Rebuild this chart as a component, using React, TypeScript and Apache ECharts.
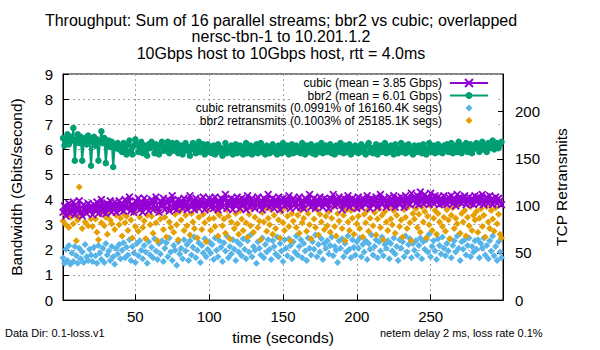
import React, { useEffect, useRef } from "react";
import * as echarts from "echarts";

const FONT = "'Liberation Sans', Arial, sans-serif";

const titleLines = [
  "Throughput: Sum of 16 parallel streams; bbr2 vs cubic; overlapped",
  "nersc-tbn-1 to 10.201.1.2",
  "10Gbps host to 10Gbps host, rtt = 4.0ms",
];
const legendNames = [
  "cubic (mean = 3.85 Gbps)",
  "bbr2 (mean = 6.01 Gbps)",
  "cubic retransmits (0.0991% of 16160.4K segs)",
  "bbr2 retransmits (0.1003% of 25185.1K segs)",
];
const footLeft = "Data Dir: 0.1-loss.v1";
const footRight = "netem delay 2 ms, loss rate 0.1%";

// Throughput (Gbps), one value per second, t = 1..298
const bbr2Tput = [
  6.45, 6.15, 6.3, 6.6, 6.2, 6.5, 6.35, 6.85, 5.55, 6.4, 6.6, 6.25, 6.5, 5.55, 6.3, 6.45, 6.2, 6.55, 6.35, 5.35,
  6.3, 6.5, 6.15, 6.4, 5.55, 6.3, 6.72, 6.25, 6.45, 5.45, 6.2, 6.35, 6.1, 6.3, 5.3, 6.15, 6.05, 6.25, 6.0, 6.1,
  5.9, 6.25, 6.05, 5.8, 6.2, 6.35, 5.95, 5.8, 6.15, 6.4, 6.2, 5.9, 6.05, 6.3, 5.85, 6.15, 5.95, 5.75, 6.2, 6.05,
  6.3, 6.1, 5.85, 6.2, 6.05, 5.8, 6.15, 6.3, 5.95, 6.1, 5.95, 6.3, 5.85, 6.05, 6.25, 5.95, 6.1, 6.25, 5.85, 6.0,
  6.15, 5.8, 6.05, 6.25, 5.95, 6.1, 5.75, 6.0, 6.25, 6.05, 5.85, 6.1, 6.3, 5.9, 6.0, 6.2, 5.8, 6.05, 6.2, 5.9,
  6.05, 5.85, 6.15, 5.8, 6.0, 6.2, 5.9, 6.05, 5.75, 6.0, 6.25, 5.85, 6.05, 5.9, 6.15, 5.8, 6.0, 6.2, 5.85, 6.05,
  6.15, 5.9, 5.8, 6.05, 6.25, 5.85, 6.0, 6.15, 5.8, 6.05, 5.9, 6.2, 5.85, 6.0, 6.25, 5.9, 6.05, 5.8, 6.15, 6.0,
  5.85, 6.05, 6.2, 5.9, 6.0, 5.8, 6.15, 6.05, 5.85, 6.25, 6.0, 5.9, 6.15, 5.8, 6.05, 6.2, 5.85, 6.0, 6.15, 5.9,
  6.05, 5.85, 6.25, 6.0, 5.8, 6.15, 5.9, 6.05, 6.2, 5.85, 6.0, 5.8, 6.15, 6.05, 5.9, 6.25, 5.85, 6.0, 6.15, 5.9,
  6.0, 6.2, 5.85, 6.05, 5.8, 6.15, 6.0, 5.9, 6.25, 6.05, 5.85, 6.15, 5.9, 6.0, 6.2, 5.8, 6.05, 5.9, 6.15, 6.0,
  5.85, 6.05, 6.2, 5.9, 6.0, 5.8, 6.15, 6.25, 5.9, 6.05, 5.85, 6.0, 6.2, 5.8, 6.05, 6.15, 5.9, 6.0, 6.25, 5.85,
  6.05, 5.9, 6.15, 6.0, 5.8, 6.2, 6.05, 5.85, 6.0, 6.25, 5.9, 6.15, 5.85, 6.05, 6.2, 5.9, 6.0, 5.8, 6.15, 6.05,
  5.9, 6.15, 6.0, 5.85, 6.2, 6.05, 5.8, 6.0, 6.25, 5.9, 6.05, 6.15, 5.85, 6.0, 6.2, 5.9, 6.05, 5.85, 6.15, 6.0,
  6.2, 5.9, 6.05, 6.25, 5.85, 6.0, 6.15, 5.9, 6.3, 6.05, 5.85, 6.15, 6.0, 6.25, 5.9, 6.05, 6.2, 5.85, 6.0, 6.15,
  6.25, 6.05, 5.9, 6.2, 6.3, 6.0, 6.15, 5.9, 6.25, 6.05, 6.2, 6.35, 6.0, 6.15, 6.25, 6.05, 6.2, 6.3,
];

const cubicTput = [
  3.5, 3.75, 3.35, 3.65, 3.85, 3.45, 3.6, 3.9, 3.4, 3.7, 3.55, 3.95, 3.5, 3.35, 3.8, 3.6, 3.45, 3.85, 3.55, 3.75,
  3.4, 3.8, 3.55, 3.9, 3.45, 3.7, 4.0, 3.5, 3.8, 3.45, 3.85, 3.6, 3.95, 3.5, 3.75, 3.9, 3.5, 3.8, 3.95, 3.6,
  3.85, 3.55, 4.0, 3.65, 3.9, 4.1, 3.55, 3.8, 3.5, 3.95, 3.7, 4.05, 3.6, 3.9, 3.5, 4.05, 3.7, 3.95, 3.55, 3.85,
  4.0, 3.6, 3.9, 4.1, 3.65, 3.5, 3.95, 3.75, 4.05, 3.6, 3.9, 4.0, 3.55, 3.95, 4.15, 3.65, 3.9, 3.6, 4.0, 3.75,
  3.95, 3.65, 4.05, 3.8, 3.6, 4.0, 4.15, 3.7, 3.95, 3.6, 4.05, 3.8, 3.65, 4.0, 3.75, 4.1, 3.6, 3.95, 3.8, 4.05,
  3.7, 4.0, 3.65, 4.1, 3.9, 3.6, 3.85, 4.05, 3.7, 4.0, 4.2, 3.65, 3.95, 3.8, 4.05, 3.6, 4.0, 3.75, 4.1, 3.9,
  3.65, 4.05, 3.8, 4.0, 3.6, 4.15, 3.9, 3.7, 4.05, 3.8, 3.65, 4.0, 4.1, 3.7, 3.95, 3.6, 4.05, 3.8, 4.0, 4.2,
  3.7, 3.9, 4.05, 3.65, 4.0, 3.8, 4.1, 3.6, 3.95, 4.05, 3.75, 4.0, 3.8, 4.15, 3.65, 3.95, 4.05, 3.8, 3.7, 4.0,
  4.1, 3.7, 3.95, 3.65, 4.05, 4.0, 3.8, 4.2, 3.7, 3.9, 4.05, 3.65, 4.0, 3.8, 4.1, 3.9, 3.7, 4.05, 3.8, 4.0,
  3.65, 4.05, 3.9, 4.2, 3.75, 4.0, 3.8, 4.1, 3.9, 3.6, 4.05, 3.8, 4.0, 4.15, 3.7, 3.95, 4.05, 3.8, 4.0, 3.65,
  4.1, 3.9, 3.7, 4.05, 4.0, 3.8, 4.15, 3.9, 3.65, 4.05, 3.8, 4.0, 4.1, 3.7, 3.95, 4.2, 3.8, 4.0, 4.05, 3.7,
  3.9, 4.1, 3.8, 4.0, 4.15, 3.7, 3.95, 4.05, 3.8, 4.1, 4.0, 3.7, 4.15, 3.9, 4.05, 3.8, 4.25, 3.95, 4.1, 3.85,
  4.15, 3.8, 4.3, 4.0, 3.85, 4.2, 3.9, 4.1, 3.8, 4.25, 4.0, 3.85, 4.15, 3.9, 4.1, 3.8, 4.05, 3.85, 4.15, 3.9,
  3.8, 4.1, 3.9, 4.15, 3.85, 4.05, 3.75, 4.2, 3.9, 4.1, 3.85, 4.05, 4.15, 3.8, 3.95, 4.1, 3.85, 4.05, 3.8, 4.15,
  3.9, 4.1, 3.85, 4.05, 4.2, 3.8, 3.95, 4.1, 3.85, 4.15, 4.0, 3.8, 3.95, 4.1, 3.85, 4.05, 3.95, 3.8,
];

// Retransmits per second (right axis), t = 1..298
const cubicRetr = [
  45, 39, 54, 42, 58, 38, 50, 41, 57, 47, 39, 55, 44, 51, 40, 59, 46, 42, 54, 48,
  41, 56, 47, 39, 58, 50, 43, 55, 40, 60, 48, 52, 42, 57, 46, 38, 55, 49, 59, 44,
  53, 61, 45, 56, 48, 64, 42, 57, 50, 40, 60, 47, 63, 53, 44, 58, 51, 39, 62, 48,
  56, 45, 65, 52, 43, 60, 49, 63, 41, 55, 61, 46, 66, 51, 42, 58, 53, 37, 62, 49,
  55, 44, 64, 52, 59, 42, 63, 48, 56, 67, 45, 53, 61, 40, 58, 50, 65, 46, 54, 62,
  50, 59, 43, 66, 53, 46, 63, 56, 41, 61, 52, 68, 45, 57, 49, 64, 54, 42, 62, 51,
  59, 47, 65, 54, 44, 63, 51, 69, 46, 57, 53, 39, 62, 55, 48, 66, 45, 59, 51, 64,
  54, 43, 63, 57, 49, 67, 46, 60, 52, 41, 64, 55, 47, 65, 58, 44, 62, 51, 68, 48,
  57, 64, 45, 60, 52, 42, 66, 55, 48, 62, 54, 69, 46, 59, 51, 65, 43, 60, 55, 63,
  49, 58, 67, 47, 57, 53, 40, 63, 55, 65, 46, 60, 51, 68, 54, 45, 64, 56, 48, 62,
  55, 66, 46, 59, 51, 63, 43, 60, 54, 69, 48, 57, 64, 45, 62, 52, 67, 47, 59, 55,
  63, 44, 60, 52, 66, 49, 57, 42, 64, 55, 62, 46, 68, 51, 59, 65, 45, 60, 53, 63,
  48, 58, 66, 44, 62, 54, 64, 51, 70, 46, 57, 63, 52, 43, 65, 58, 49, 67, 55, 47,
  60, 52, 65, 45, 58, 63, 51, 68, 55, 42, 62, 54, 64, 48, 58, 66, 46, 57, 51, 63,
  54, 64, 45, 60, 55, 66, 48, 58, 44, 63, 52, 68, 47, 57, 42, 62, 51, 45,
];

const bbr2Retr = [
  84, 92, 80, 95, 77, 88, 97, 81, 90, 63, 85, 120, 89, 76, 96, 83, 93, 79, 99, 86,
  78, 94, 86, 72, 64, 91, 82, 98, 79, 88, 70, 93, 85, 81, 100, 75, 90, 96, 80, 87,
  68, 92, 82, 89, 74, 99, 85, 66, 93, 78, 101, 73, 88, 95, 77, 84, 65, 90, 98, 80,
  89, 71, 96, 82, 63, 93, 86, 101, 75, 88, 67, 95, 83, 77, 99, 72, 91, 80, 64, 94,
  85, 98, 74, 90, 79, 100, 69, 92, 83, 76, 96, 66, 88, 101, 75, 91, 82, 62, 95, 86,
  74, 99, 87, 78, 94, 68, 90, 101, 79, 86, 71, 96, 89, 65, 83, 100, 76, 92, 81, 70,
  95, 86, 74, 99, 82, 67, 91, 79, 97, 72, 88, 102, 77, 84, 64, 93, 83, 98, 73, 87,
  80, 96, 70, 90, 76, 100, 85, 66, 94, 82, 74, 98, 89, 78, 63, 92, 84, 101, 77, 90,
  71, 95, 82, 87, 98, 73, 92, 80, 65, 99, 86, 77, 96, 69, 91, 83, 102, 75, 89, 79,
  94, 72, 87, 99, 78, 68, 92, 84, 100, 76, 90, 63, 96, 83, 74, 95, 87, 70, 97, 81,
  89, 76, 99, 67, 91, 82, 95, 73, 87, 101, 79, 93, 69, 86, 97, 77, 90, 64, 94, 83,
  74, 98, 86, 80, 95, 71, 90, 102, 78, 85, 67, 96, 88, 76, 99, 82, 63, 92, 86, 97,
  77, 91, 72, 99, 83, 94, 66, 89, 80, 100, 74, 87, 95, 70, 92, 83, 101, 78, 88, 73,
  96, 85, 65, 90, 98, 76, 87, 81, 101, 71, 92, 83, 95, 68, 88, 79, 99, 74, 90, 85,
  94, 72, 87, 97, 78, 90, 67, 99, 83, 76, 95, 86, 73, 98, 81, 91, 70, 66,
];

const COLORS = { cubic: "#9400d3", bbr2: "#009e73", cubicR: "#56b4e9", bbr2R: "#e69f00" };
const X_SYMBOL = "path://M0,1.6L1.6,0L5,3.4L8.4,0L10,1.6L6.6,5L10,8.4L8.4,10L5,6.6L1.6,10L0,8.4L3.4,5Z";

const pair = (arr: number[]) => arr.map((v, i) => [i + 1, v]);

export default function App() {
  const ref = useRef<HTMLDivElement>(null);
  useEffect(() => {
    if (!ref.current) return;
    const chart = echarts.init(ref.current, null, { renderer: "svg" });
    const axisText = { color: "#000", fontFamily: FONT, fontSize: 15, fontWeight: "normal" };
    const nameText = { color: "#000", fontFamily: FONT, fontSize: 15.5, fontWeight: "normal" };
    const dashed = { show: true, lineStyle: { color: "#a0a0a0", type: [2, 3], width: 1 } };
    const lx = 469;
    const rows = [83, 95.5, 108, 120.5];
    const legendGraphics: any[] = [];
    legendNames.forEach((n, i) => {
      legendGraphics.push({
        type: "text",
        x: 442,
        y: rows[i],
        style: {
          text: n,
          fill: "#000",
          font: `12px ${FONT}`,
          lineHeight: 12,
          textAlign: "right",
          textVerticalAlign: "middle",
        },
      });
    });
    legendGraphics.push(
      { type: "line", shape: { x1: 450, y1: rows[0], x2: 488, y2: rows[0] }, style: { stroke: COLORS.cubic, lineWidth: 2 } },
      { type: "line", shape: { x1: lx - 4, y1: rows[0] - 4, x2: lx + 4, y2: rows[0] + 4 }, style: { stroke: COLORS.cubic, lineWidth: 2 } },
      { type: "line", shape: { x1: lx - 4, y1: rows[0] + 4, x2: lx + 4, y2: rows[0] - 4 }, style: { stroke: COLORS.cubic, lineWidth: 2 } },
      { type: "line", shape: { x1: 450, y1: rows[1], x2: 488, y2: rows[1] }, style: { stroke: COLORS.bbr2, lineWidth: 2 } },
      { type: "circle", shape: { cx: lx, cy: rows[1], r: 3.5 }, style: { fill: COLORS.bbr2 } },
      {
        type: "polygon",
        shape: { points: [[lx, rows[2] - 3.5], [lx + 3.5, rows[2]], [lx, rows[2] + 3.5], [lx - 3.5, rows[2]]] },
        style: { fill: COLORS.cubicR },
      },
      {
        type: "polygon",
        shape: { points: [[lx, rows[3] - 3.5], [lx + 3.5, rows[3]], [lx, rows[3] + 3.5], [lx - 3.5, rows[3]]] },
        style: { fill: COLORS.bbr2R },
      }
    );

    chart.setOption({
      animation: false,
      backgroundColor: "#fff",
      grid: { left: 56, right: 97, top: 74, bottom: 49, show: true, borderColor: "#000", borderWidth: 1 },
      xAxis: {
        type: "value",
        min: 1,
        max: 299,
        axisLine: { show: true, lineStyle: { color: "#000", width: 1 } },
        axisTick: { show: true, inside: true, length: 6, lineStyle: { color: "#000" } },
        axisLabel: { ...axisText, margin: 9, showMinLabel: false, showMaxLabel: false },
        splitLine: dashed,
        name: "time (seconds)",
        nameLocation: "middle",
        nameGap: 22,
        nameTextStyle: nameText,
      },
      yAxis: [
        {
          type: "value",
          min: 0,
          max: 9,
          interval: 1,
          axisLine: { show: true, lineStyle: { color: "#000", width: 1 } },
          axisTick: { show: true, inside: true, length: 6, lineStyle: { color: "#000" } },
          axisLabel: { ...axisText, margin: 10 },
          splitLine: dashed,
          name: "Bandwidth (Gbits/second)",
          nameLocation: "middle",
          nameGap: 39,
          nameTextStyle: nameText,
        },
        {
          type: "value",
          position: "right",
          min: 0,
          max: 240,
          interval: 50,
          axisLine: { show: true, lineStyle: { color: "#000", width: 1 } },
          axisTick: { show: true, inside: true, length: 6, lineStyle: { color: "#000" } },
          axisLabel: { ...axisText, margin: 12, showMaxLabel: false },
          splitLine: { show: false },
          name: "TCP Retransmits",
          nameLocation: "middle",
          nameGap: 50,
          nameTextStyle: nameText,
        },
      ],
      series: [
        {
          name: legendNames[0],
          type: "line",
          data: pair(cubicTput),
          symbol: X_SYMBOL,
          symbolSize: 8,
          showSymbol: true,
          lineStyle: { color: COLORS.cubic, width: 2 },
          itemStyle: { color: COLORS.cubic },
          emphasis: { disabled: true },
          silent: true,
        },
        {
          name: legendNames[1],
          type: "line",
          data: pair(bbr2Tput),
          symbol: "circle",
          symbolSize: 6.5,
          showSymbol: true,
          lineStyle: { color: COLORS.bbr2, width: 2 },
          itemStyle: { color: COLORS.bbr2 },
          emphasis: { disabled: true },
          silent: true,
        },
        {
          name: legendNames[2],
          type: "scatter",
          yAxisIndex: 1,
          data: pair(cubicRetr),
          symbol: "diamond",
          symbolSize: 7,
          itemStyle: { color: COLORS.cubicR, opacity: 1 },
          emphasis: { disabled: true },
          silent: true,
        },
        {
          name: legendNames[3],
          type: "scatter",
          yAxisIndex: 1,
          data: pair(bbr2Retr),
          symbol: "diamond",
          symbolSize: 7,
          itemStyle: { color: COLORS.bbr2R, opacity: 1 },
          emphasis: { disabled: true },
          silent: true,
        },
      ],
      graphic: [
        ...titleLines.map((t, i) => ({
          type: "text",
          x: 281,
          y: 20 + i * 16.5,
          style: { text: t, fill: "#000", font: `16px ${FONT}`, textAlign: "center", textVerticalAlign: "middle" },
        })),
        {
          type: "text",
          x: 5,
          y: 333,
          style: { text: footLeft, fill: "#000", font: `11px ${FONT}`, textAlign: "left", textVerticalAlign: "middle" },
        },
        {
          type: "text",
          x: 380,
          y: 333,
          style: { text: footRight, fill: "#000", font: `11px ${FONT}`, textAlign: "left", textVerticalAlign: "middle" },
        },
        {
          type: "rect",
          shape: { x: 292, y: 76, width: 206, height: 52 },
          style: { fill: "#fff" },
          z: 10,
        },
        ...legendGraphics.map((g) => ({ ...g, z: 11 })),
      ],
    });
    return () => chart.dispose();
  }, []);
  return <div ref={ref} style={{ position: "fixed", left: 0, top: 0, width: 600, height: 350 }} />;
}
